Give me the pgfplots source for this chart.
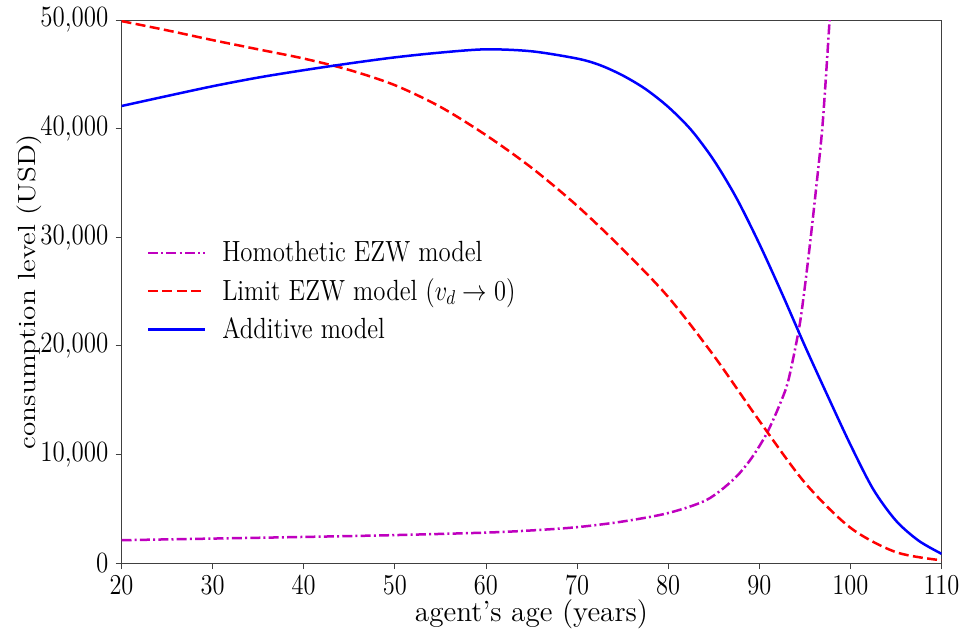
\documentclass[border=0pt]{standalone}
\usepackage{graphicx}
\usepackage{pgfplots}
\pgfplotsset{compat=1.18}
\definecolor{mplm}{rgb}{0.75,0,0.75}
\newcommand{\sq}[1]{\scalebox{0.85}[1]{#1}}
\begin{document}
\begin{tikzpicture}
\begin{axis}[
  scale only axis,
  width=410pt, height=271.5pt,
  xmin=20, xmax=110, ymin=0, ymax=50000,
  xtick={20,30,...,110},
  ytick={0,10000,...,50000},
  scaled y ticks=false,
  xticklabel={\sq{$\pgfmathprintnumber{\tick}$}},
  yticklabel={\sq{\pgfmathprintnumber[fixed,1000 sep={,},assume math mode=true]{\tick}}},
  tick label style={font=\fontsize{14.7}{16}\selectfont},
  label style={font=\fontsize{14.6}{17}\selectfont},
  xlabel={agent's age (years)},
  ylabel={\scalebox{1}[0.85]{consumption level (USD)}},
  x label style={at={(axis description cs:0.5,-0.107)},anchor=base},
  y label style={at={(axis description cs:-0.113,0.5)},anchor=center,rotate=0},
  tick align=outside,
  xtick pos=lower, ytick pos=left,
  major tick length=3pt,
  axis line style={black!75},
  every tick/.style={black!75},
  legend cell align=left,
  legend style={draw=none,fill=none,at={(rel axis cs:0.023,0.5)},anchor=west,
    font=\fontsize{14.6}{16}\selectfont,row sep=3pt},
  legend image code/.code={\draw[#1] (0pt,0pt) -- (28.5pt,0pt);},
  /tikz/every odd column/.append style={column sep=6pt},
]
\addplot[mplm, line width=1.25pt, smooth, tension=0.5, dash pattern=on 5pt off 1.6pt on 1pt off 1.6pt] coordinates {
(20,2100) (30,2250) (40,2400) (50,2570) (60,2800) (65,3000) (70,3300) (75,3820)
(80,4600) (84.2,5800) (87.1,7640) (89.0,9480) (90.8,11900)
(92.3,14700) (93.2,16850) (94.3,21300) (94.8,24100) (95.5,28900) (96.2,34200)
(96.95,40400) (97.7,49750) (98.0,54000)
};
\addlegendentry{\sq{Homothetic EZW model}}
\addplot[red, line width=1.25pt, smooth, tension=0.5, dash pattern=on 5pt off 2.2pt] coordinates {
(20,49900) (25,49050) (30,48150) (35,47300) (40,46450) (45,45400) (50,44000)
(55,42000) (60,39400) (65,36400) (70,32900) (75,28900) (80,24500) (85,19100)
(90,13100) (95,7400) (100,3250) (105,1000) (110,250)
};
\addlegendentry{\sq{Limit EZW model ($v_d \rightarrow 0$)}}
\addplot[blue, line width=1.25pt, smooth, tension=0.5] coordinates {
(20,42080) (25,43000) (30,43900) (35,44700) (40,45380) (45,46000) (50,46560)
(55,47000) (60,47300) (65,47120) (70,46450) (72.5,45850) (75,44900) (77.5,43650)
(80,42000) (82.5,39900) (85,37100) (87.5,33600) (90,29400) (92.5,24800)
(95,20000) (97.5,15400) (100,10900) (102.5,6800) (105,3900) (107.5,2050) (110,850)
};
\addlegendentry{\sq{Additive model}}
\end{axis}
\pgfresetboundingbox
\path[use as bounding box] (-60.75pt,-33pt) rectangle (420.75pt,281.5pt);
\end{tikzpicture}
\end{document}
